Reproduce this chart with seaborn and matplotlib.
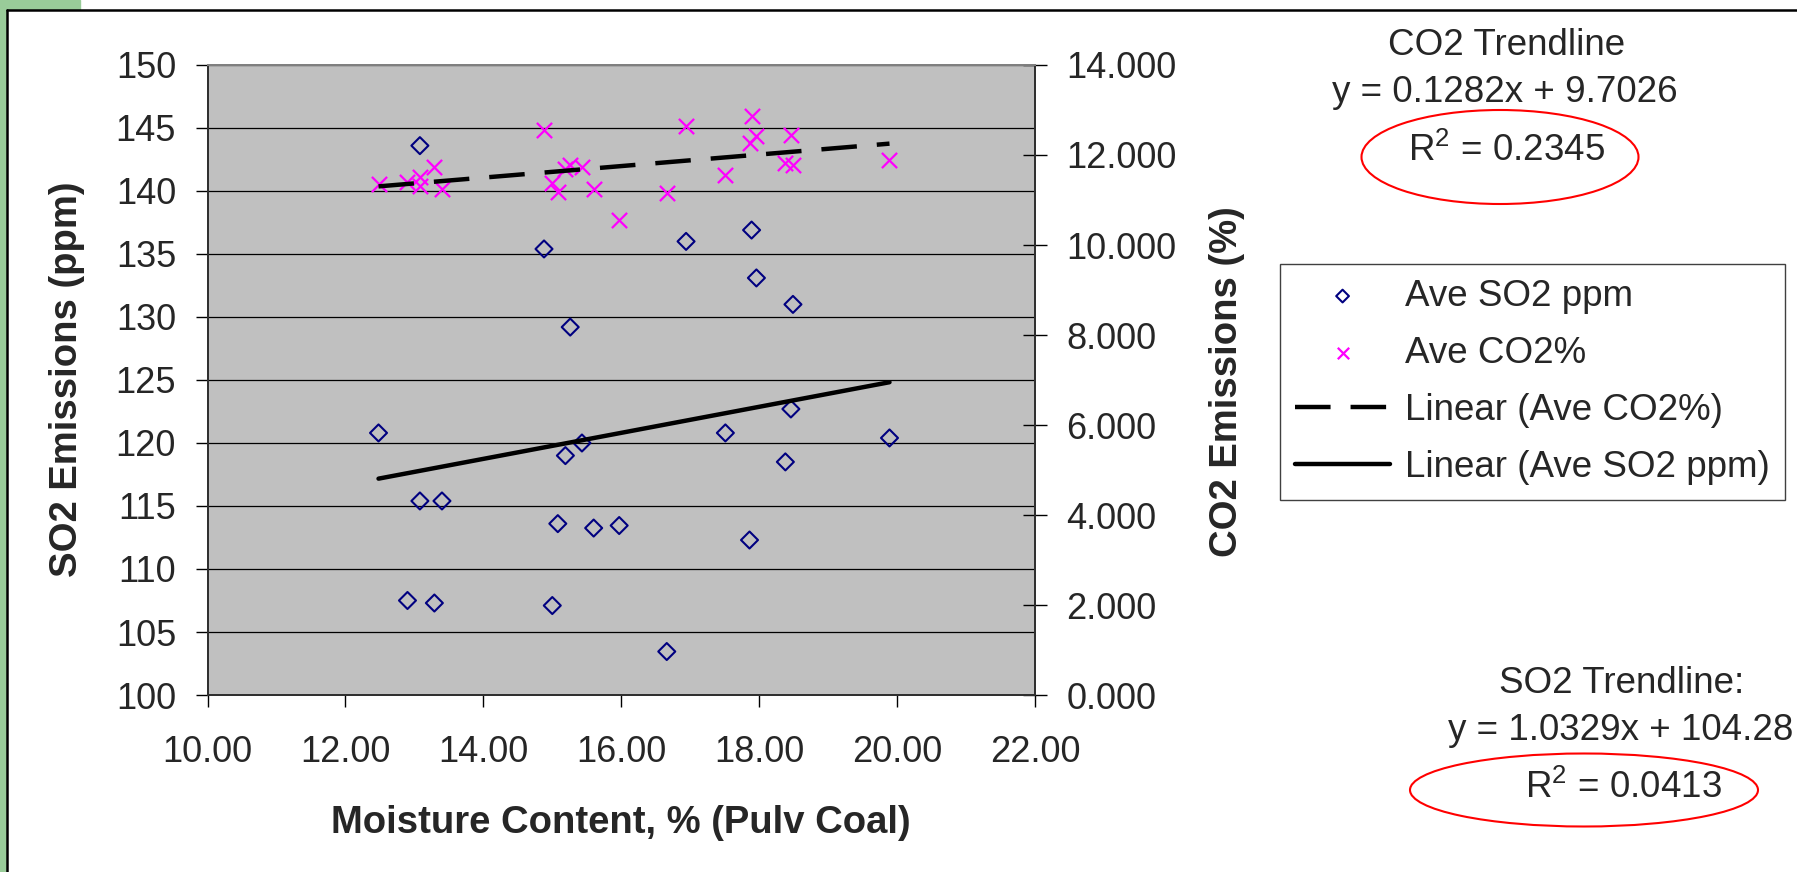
import numpy as np
import pandas as pd
import matplotlib
matplotlib.use("Agg")
import matplotlib.pyplot as plt
from matplotlib.patches import Ellipse, Rectangle
from matplotlib.lines import Line2D
import seaborn as sns

# moisture content of the pulverised coal samples (%)
moisture = [12.48, 12.90, 13.08, 13.08, 13.29, 13.40, 14.88, 15.00, 15.08, 15.19, 15.26, 15.43,
            15.60, 15.97, 16.66, 16.94, 17.51, 17.86, 17.89, 17.96, 18.38, 18.46, 18.49, 19.89]
so2_ppm = [120.8, 107.5, 143.6, 115.4, 107.3, 115.4, 135.4, 107.1, 113.6, 119.0, 129.2, 120.0,
           113.25, 113.45, 103.45, 136.0, 120.8, 112.3, 136.9, 133.1, 118.5, 122.7, 131.0, 120.4]
co2_pct = [11.36, 11.41, 11.50, 11.30, 11.74, 11.24, 12.55, 11.38, 11.18, 11.70, 11.77, 11.74,
           11.25, 10.56, 11.15, 12.65, 11.56, 12.26, 12.87, 12.43, 11.83, 12.44, 11.78, 11.89]

# Excel trendline coefficients (slope, intercept)
co2_fit = (0.1282, 9.7026)
so2_fit = (1.0329, 104.28)
co2_r2 = "0.2345"
so2_r2 = "0.0413"

df = pd.DataFrame({"Moisture": moisture, "SO2": so2_ppm, "CO2": co2_pct})
xr = np.array([df.Moisture.min(), df.Moisture.max()])
trend = pd.DataFrame({"x": xr,
                      "so2": so2_fit[0] * xr + so2_fit[1],
                      "co2": co2_fit[0] * xr + co2_fit[1]})

sns.set_style("white")
plt.rcParams['font.family'] = ['Liberation Sans', 'DejaVu Sans']
plt.rcParams['mathtext.fontset'] = 'custom'
plt.rcParams['mathtext.rm'] = 'Liberation Sans'
plt.rcParams['mathtext.default'] = 'regular'

W, H = 1797, 872
fig = plt.figure(figsize=(W / 100, H / 100), dpi=100)
fx = lambda px: px / W
fy = lambda py: 1 - py / H

ax = fig.add_axes([fx(207.5), fy(695), fx(1035) - fx(207.5), fy(65) - fy(695)])
ax.set_facecolor("#C0C0C0")
ax2 = ax.twinx()

navy = "#000080"
magenta = "#FF00FF"

sns.scatterplot(data=df, x="Moisture", y="SO2", ax=ax, marker="D", s=75, label="Ave SO2 ppm")
pts = ax.collections[-1]
pts.set_facecolor("none")
pts.set_edgecolor(navy)
pts.set_linewidth(1.5)

sns.lineplot(data=trend, x="x", y="so2", ax=ax, color="black", lw=3.2, label="Linear (Ave SO2 ppm)")

sns.scatterplot(data=df, x="Moisture", y="CO2", ax=ax2, marker="x", s=120, label="Ave CO2%")
pts2 = ax2.collections[-1]
pts2.set_facecolor(magenta)
pts2.set_edgecolor(magenta)
pts2.set_linewidth(1.6)

sns.lineplot(data=trend, x="x", y="co2", ax=ax2, color="black", lw=3.2, label="Linear (Ave CO2%)")
ax2.lines[-1].set_dashes((8, 4.5))

for a in (ax, ax2):
    if a.get_legend() is not None:
        a.get_legend().remove()

# axes, ticks, grid
ax.set_xlim(10, 22)
ax.set_ylim(100, 150)
ax2.set_ylim(0, 14)
ax.set_xticks(np.arange(10, 22.1, 2))
ax.set_yticks(np.arange(100, 150.1, 5))
ax2.set_yticks(np.arange(0, 14.1, 2))
ax.set_xticklabels([f"{v:.2f}" for v in np.arange(10, 22.1, 2)])
ax2.set_yticklabels([f"{v:.3f}" for v in np.arange(0, 14.1, 2)])
ax.set_xlabel("")
ax.set_ylabel("")
ax2.set_ylabel("")

ax.yaxis.grid(True, color="black", lw=0.9)
ax.xaxis.grid(False)
ax.set_axisbelow(True)

ax.tick_params(axis="y", direction="out", length=8.6, width=1, color="black",
               labelsize=26, pad=14, left=True)
ax.tick_params(axis="x", direction="out", length=8.6, width=1, color="black",
               labelsize=26, pad=20, bottom=True)
ax2.tick_params(axis="y", direction="inout", length=17, width=1, color="black",
                labelsize=26, pad=14, right=True)

for a in (ax, ax2):
    for side, sp in a.spines.items():
        sp.set_visible(True)
        sp.set_color("#808080" if side == "top" else "#303030")
        sp.set_linewidth(1.4)

# axis titles
fig.text(fx(67), fy(379), "SO2 Emissions (ppm)", rotation=90, ha="center", va="center",
         fontsize=27.5, fontweight="bold")
fig.text(fx(1227), fy(382), "CO2 Emissions (%)", rotation=90, ha="center", va="center",
         fontsize=27.5, fontweight="bold")
fig.text(fx(621), fy(823), "Moisture Content, % (Pulv Coal)", ha="center", va="center",
         fontsize=27.5, fontweight="bold")

# legend
h1, l1 = ax.get_legend_handles_labels()
h2, l2 = ax2.get_legend_handles_labels()
hd = dict(zip(l1 + l2, h1 + h2))
order = ["Ave SO2 ppm", "Ave CO2%", "Linear (Ave CO2%)", "Linear (Ave SO2 ppm)"]
leg = fig.legend([hd[k] for k in order], order, loc="upper left",
                 bbox_to_anchor=(fx(1280), fy(264)), bbox_transform=fig.transFigure,
                 borderaxespad=0, fontsize=26.5, frameon=True, fancybox=False,
                 edgecolor="#404040", framealpha=1, borderpad=0.4, labelspacing=0.6,
                 handlelength=2.6, handletextpad=0.4, scatterpoints=1, markerscale=0.75)
leg.get_frame().set_linewidth(1.0)

# trendline notes
tkw = dict(ha="center", va="baseline", fontsize=26.5)
fig.text(fx(1507), fy(55), "CO2 Trendline", **tkw)
fig.text(fx(1505), fy(102), f"y = {co2_fit[0]}x + {co2_fit[1]}", **tkw)
fig.text(fx(1506), fy(161), f"R$^{{2}}$ = {co2_r2}", **tkw)
fig.text(fx(1622), fy(693), "SO2 Trendline:", **tkw)
fig.text(fx(1621), fy(740), f"y = {so2_fit[0]}x + {so2_fit[1]}", **tkw)
fig.text(fx(1623), fy(798), f"R$^{{2}}$ = {so2_r2}", **tkw)

fig.patches.append(Ellipse((fx(1500), fy(157)), 277 / W, 94 / H, transform=fig.transFigure,
                           fill=False, edgecolor="#FF0000", lw=1.5))
fig.patches.append(Ellipse((fx(1584), fy(790)), 348 / W, 73 / H, transform=fig.transFigure,
                           fill=False, edgecolor="#FF0000", lw=1.5))

# green cell highlight and chart border
green = "#99CC99"
fig.patches.append(Rectangle((0, 0), 6 / W, 1, transform=fig.transFigure, color=green, zorder=0))
fig.patches.append(Rectangle((0, fy(9)), 80 / W, 9 / H, transform=fig.transFigure, color=green, zorder=0))
fig.lines.append(Line2D([fx(7.2), fx(7.2)], [0, fy(10.3)], transform=fig.transFigure, color="black", lw=1.8))
fig.lines.append(Line2D([fx(7.2), 1], [fy(10.3), fy(10.3)], transform=fig.transFigure, color="black", lw=1.8))

fig.savefig("out.png", dpi=100)
